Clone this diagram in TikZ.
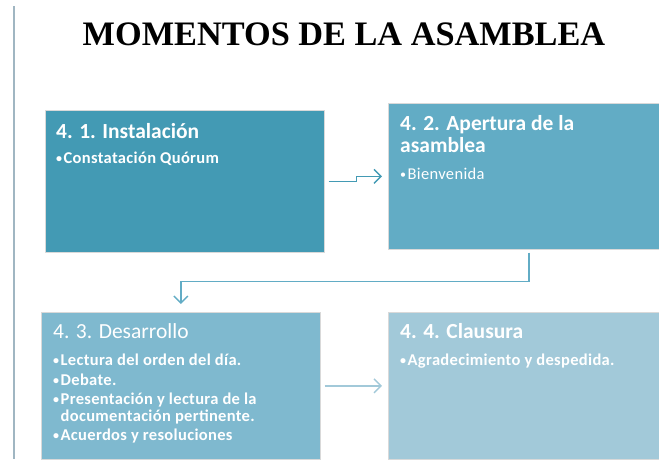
\documentclass[tikz,border=0pt]{standalone}
\usepackage{fontspec}
\setmainfont{Carlito}
\newfontfamily\titlefont{Liberation Serif}
\newfontfamily\itemfont[LetterSpace=2]{Carlito}
\usetikzlibrary{arrows.meta}
\definecolor{cA}{RGB}{67,154,180}
\definecolor{cB}{RGB}{98,172,197}
\definecolor{cC}{RGB}{127,185,207}
\definecolor{cD}{RGB}{162,201,217}
\definecolor{rule}{RGB}{160,182,194}
\newcommand{\bul}{{\fontsize{12}{12}\selectfont\raisebox{0.8pt}{•}}\kern1.5pt}
\begin{document}
\begin{tikzpicture}[x=1pt,y=-1pt,
  box/.style={draw=white!85!black,line width=0.6pt,inner sep=0pt,anchor=north west},
  head/.style={anchor=base west,inner sep=0pt,text=white,font=\bfseries\fontsize{21.5}{24}\selectfont},
  headreg/.style={anchor=base west,inner sep=0pt,text=white,font=\fontsize{21.5}{24}\selectfont},
  item/.style={anchor=base west,inner sep=0pt,text=white,font=\itemfont\bfseries\fontsize{16.5}{18}\selectfont},
  itemreg/.style={anchor=base west,inner sep=0pt,text=white,font=\itemfont\fontsize{16.5}{18}\selectfont},
  conn/.style={line width=1.4pt,-{Straight Barb[length=7pt,width=14pt,line width=1.4pt]}}]
\useasboundingbox (0,0) rectangle (659,459);
\draw[rule,line width=2pt] (13.5,6) -- (13.5,459);
\node[font=\titlefont\bfseries\fontsize{34.3}{40}\selectfont] (title) at (344,34) {MOMENTOS DE LA ASAMBLEA};
% boxes
\node[box,fill=cA,minimum width=279pt,minimum height=142pt] (b1) at (45,110) {};
\node[box,fill=cB,minimum width=272pt,minimum height=146pt] (b2) at (388,103) {};
\node[box,fill=cC,minimum width=279pt,minimum height=147pt] (b3) at (41,312) {};
\node[box,fill=cD,minimum width=272pt,minimum height=147pt] (b4) at (388,312) {};
% texts
\node[head] (t1) at (56,138) {4. 1. Instalación};
\node[item] (i1) at (56,163) {\bul Constatación Quórum};
\node[head] (t2a) at (400,130) {4. 2. Apertura de la};
\node[head] (t2b) at (400,152) {asamblea};
\node[itemreg] (i2) at (400,179) {\bul Bienvenida};
\node[headreg] (t3) at (53,338) {4. 3. Desarrollo};
\node[item] (i3a) at (53,365) {\bul Lectura del orden del día.};
\node[item] (i3b) at (53,385) {\bul Debate.};
\node[item] (i3c) at (53,404) {\bul Presentación y lectura de la};
\node[item] (i3d) at (53,421) {\phantom{\bul}documentación pertinente.};
\node[item] (i3e) at (53,440) {\bul Acuerdos y resoluciones};
\node[head] (t4) at (400,338) {4. 4. Clausura};
\node[item] (i4) at (400,365) {\bul Agradecimiento y despedida.};
% connectors
\draw[conn,cA,shorten <=4pt,shorten >=6pt] (b1.east) -- ++(32,0) |- (b2.west);
\draw[conn,cB,shorten <=3pt,shorten >=8pt] ([xshift=4.5pt]b2.south) -- ++(0,32) -| (b3.north);
\draw[conn,cD,shorten <=4pt,shorten >=6pt] (b3.east) -- (b4.west);
\end{tikzpicture}
\end{document}
